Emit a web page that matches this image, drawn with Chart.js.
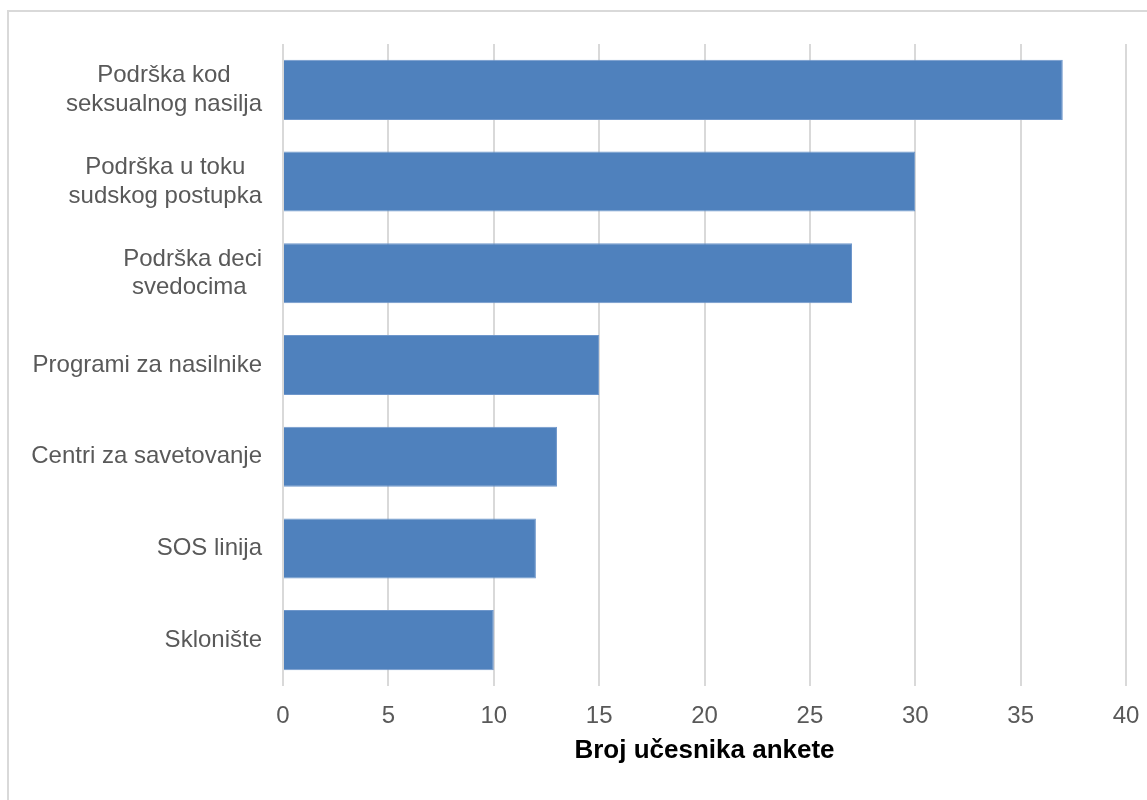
<!DOCTYPE html>
<html>
<head>
<meta charset="utf-8">
<script src="https://cdn.jsdelivr.net/npm/chart.js@4/dist/chart.umd.min.js"></script>
<style>
    html, body { margin: 0; padding: 0; background: #fff; overflow: hidden; }
    #frame {
        position: absolute; left: 7px; top: 10px; width: 1300px; height: 900px;
        border-top: 2px solid #d9d9d9; border-left: 2px solid #d9d9d9;
    }
    #wrap { position: absolute; left: 0; top: 0; width: 1147px; height: 800px; }
</style>
</head>
<body>
<div id="frame"></div>
<div id="wrap"><canvas id="chart" width="1147" height="800"></canvas></div>
<script>
// Categories (each entry is the lines of the label) and values
const categories = [
    ['Podrška kod', 'seksualnog nasilja'],
    ['Podrška u toku', 'sudskog postupka'],
    ['Podrška deci', 'svedocima '],
    ['Programi za nasilnike'],
    ['Centri za savetovanje'],
    ['SOS linija'],
    ['Sklonište']
];
const participants = [37, 30, 27, 15, 13, 12, 10];
const xTicks = [0, 5, 10, 15, 20, 25, 30, 35, 40];
const axisTitle = 'Broj učesnika ankete';

const labelFont = '24px "Liberation Sans", Arial, Helvetica, sans-serif';

// Draw category labels: lines centred to each other, block right-aligned to the axis
const categoryLabels = {
    id: 'categoryLabels',
    afterDraw(chart) {
        const ctx = chart.ctx;
        const yScale = chart.scales.y;
        const right = yScale.right - 21;
        const lineHeight = 28.8;
        ctx.save();
        ctx.font = labelFont;
        ctx.fillStyle = '#595959';
        ctx.textAlign = 'center';
        ctx.textBaseline = 'middle';
        categories.forEach((lines, i) => {
            const y = yScale.getPixelForTick(i);
            const maxW = Math.max(...lines.map(l => ctx.measureText(l).width));
            const cx = right - maxW / 2;
            const top = y - (lines.length * lineHeight) / 2;
            lines.forEach((line, j) => {
                ctx.fillText(line, cx, top + lineHeight * (j + 0.5));
            });
        });
        ctx.restore();
    }
};

new Chart(document.getElementById('chart'), {
    type: 'bar',
    data: {
        labels: categories.map(c => c.join(' ')),
        datasets: [{
            data: participants,
            backgroundColor: '#4f81bd',
            borderColor: '#6f97cb',
            borderWidth: 1,
            barPercentage: 0.655,
            categoryPercentage: 1
        }]
    },
    options: {
        indexAxis: 'y',
        responsive: false,
        animation: false,
        layout: { padding: { top: 44, right: 21, bottom: 0, left: 0 } },
        plugins: {
            legend: { display: false },
            tooltip: { enabled: false }
        },
        scales: {
            x: {
                min: 0,
                max: 40,
                afterBuildTicks: (scale) => { scale.ticks = xTicks.map(v => ({ value: v })); },
                grid: { color: '#d9d9d9', lineWidth: 2, drawTicks: false },
                border: { display: false },
                ticks: {
                    padding: 16,
                    color: '#595959',
                    font: { family: '"Liberation Sans", Arial, sans-serif', size: 24 }
                },
                title: {
                    display: true,
                    text: axisTitle,
                    color: '#000',
                    padding: { top: 0, bottom: 34 },
                    font: { family: '"Liberation Sans", Arial, sans-serif', size: 26, weight: 'bold' }
                },
                afterFit: (scale) => {
                    scale.height = 114;
                    scale.paddingLeft = 0;
                    scale.paddingRight = 0;
                }
            },
            y: {
                grid: { display: false },
                border: { display: false },
                ticks: { display: false },
                afterFit: (scale) => { scale.width = 283; }
            }
        }
    },
    plugins: [categoryLabels]
});
</script>
</body>
</html>
